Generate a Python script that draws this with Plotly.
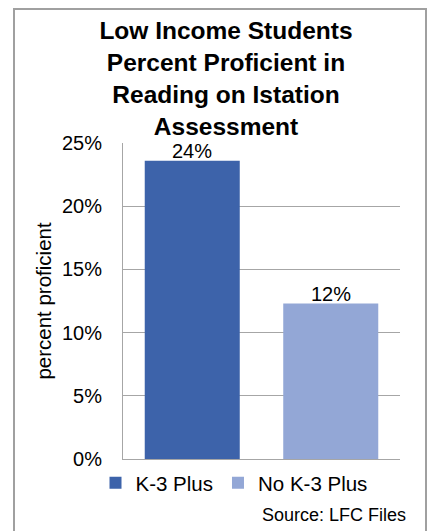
import plotly.graph_objects as go

categories = ["K-3 Plus", "No K-3 Plus"]
values = [23.6, 12.3]
labels = ["24%", "12%"]
colors = ["#3D63AA", "#93A7D6"]
yticks = [0, 5, 10, 15, 20, 25]
ytick_text = ["0%", "5%", "10%", "15%", "20%", "25%"]

FONT = "Liberation Sans, Arial, sans-serif"

fig = go.Figure()
for cat, v, col in zip(categories, values, colors):
    fig.add_trace(go.Bar(
        x=[cat], y=[v], name=cat,
        marker=dict(color=col, line=dict(width=0)), cliponaxis=False,
    ))

W, H = 430, 531
L, R, T, B = 123, 30, 143, 72
pw, ph = W - L - R, H - T - B

def px(x):
    return (x - L) / pw

def py(y):
    return (H - B - y) / ph

label_annotations = [
    dict(text=lab, x=cat, y=v, xref="x", yref="y", xanchor="center", yanchor="bottom",
         yshift=-3, showarrow=False, font=dict(size=20, family=FONT, color="#000000"))
    for cat, v, lab in zip(categories, values, labels)
]

fig.update_layout(
    width=W, height=H,
    margin=dict(l=L, r=R, t=T, b=B),
    paper_bgcolor="white", plot_bgcolor="white",
    barmode="overlay", bargap=0.314,
    font=dict(family=FONT, color="#000000"),
    title=dict(
        text="Low Income Students<br>Percent Proficient in<br>Reading on Istation<br>Assessment",
        font=dict(size=24.5, family=FONT, color="#000000", weight="bold"),
        x=226 / W, xanchor="center", xref="container",
        y=1 - 39 / H, yanchor="top", yref="container",
    ),
    showlegend=True,
    legend=dict(
        orientation="h", x=px(234), xanchor="center", y=py(483), yanchor="middle",
        font=dict(size=20.5, family=FONT, color="#000000"),
        itemwidth=30, tracegroupgap=0, bgcolor="rgba(0,0,0,0)",
    ),
    xaxis=dict(
        showticklabels=False, showgrid=False, showline=True,
        linecolor="#a6a6a6", linewidth=1, ticks="", zeroline=False,
    ),
    yaxis=dict(
        range=[0, 25], tickvals=yticks, ticktext=ytick_text,
        tickfont=dict(size=20, family=FONT, color="#000000"),
        showgrid=True, gridcolor="#a6a6a6", gridwidth=1,
        showline=True, linecolor="#a6a6a6", linewidth=1,
        zeroline=False, ticks="", ticklabelstandoff=16,
        title=dict(text="percent proficient", font=dict(size=20.5, family=FONT, color="#000000"), standoff=4),
    ),
    shapes=[dict(
        type="rect", xref="paper", yref="paper",
        x0=px(14), x1=px(426), y0=py(540), y1=py(9),
        line=dict(color="#a0a0a0", width=2), fillcolor="rgba(0,0,0,0)", layer="below",
    )],
    annotations=label_annotations + [dict(
        text="Source: LFC Files", xref="paper", yref="paper",
        x=px(408), y=py(515), xanchor="right", yanchor="middle", showarrow=False,
        font=dict(size=18, family=FONT, color="#000000"),
    )],
)

fig.write_html("out.html", config={"displayModeBar": False},
               post_script="document.body.style.margin='0';")
